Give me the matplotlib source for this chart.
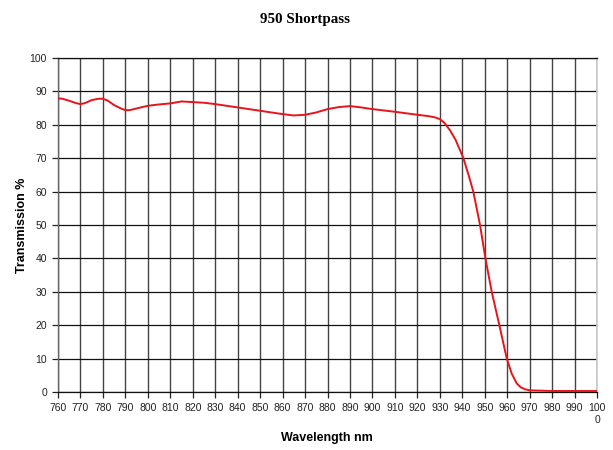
import matplotlib
matplotlib.use("Agg")
import matplotlib.pyplot as plt
import numpy as np

# transmission curve (nm, %)
wavelength = [760, 762, 765, 768, 770, 772, 775, 778, 780, 782, 785, 788,
              790, 792, 795, 800, 805, 810, 815, 820, 825, 830, 840, 850,
              860, 865, 870, 875, 880, 885, 890, 895, 900, 910, 920, 925,
              928, 930, 932, 934.5, 937, 940.5, 943, 944.9, 947.9, 950.3,
              953.1, 956.5, 959.8, 962, 964.2, 966, 968, 970, 975, 980,
              990, 1000]
transmission = [87.9, 87.8, 87.2, 86.5, 86.2, 86.5, 87.4, 87.8, 87.8, 87.3,
                85.9, 84.9, 84.4, 84.4, 84.9, 85.7, 86.1, 86.4, 87.0, 86.8,
                86.6, 86.2, 85.2, 84.2, 83.2, 82.8, 83.0, 83.7, 84.7, 85.3,
                85.6, 85.2, 84.7, 83.9, 83.0, 82.6, 82.2, 81.7, 80.6, 78.4,
                75.5, 70.0, 64.5, 60.0, 50.0, 40.0, 30.0, 20.0, 10.0, 5.5,
                2.6, 1.4, 0.8, 0.5, 0.4, 0.3, 0.3, 0.3]

x_ticks = list(range(760, 1001, 10))
x_tick_labels = [str(v) for v in x_ticks[:-1]] + ["100\n0"]
y_ticks = list(range(0, 101, 10))

fig = plt.figure(figsize=(6.13, 4.5), dpi=100)
ax = fig.add_axes([0.0946, 0.1289, 0.8794, 0.7422])

ax.plot(wavelength, transmission, color="#e8141b", linewidth=1.4, zorder=3)

ax.set_xlim(760, 1000)
ax.set_ylim(0, 100)
ax.set_xticks(x_ticks)
ax.set_xticklabels(x_tick_labels, fontsize=7.5, family="Liberation Sans",
                   color="#222222")
ax.set_yticks(y_ticks)
ax.set_yticklabels([str(v) for v in y_ticks], fontsize=7.5,
                   family="Liberation Sans", color="#222222")
ax.tick_params(length=4, width=0.9, color="#222222", pad=4)

ax.grid(axis="y", color="#111111", linewidth=0.9)
ax.grid(axis="x", color="#444444", linewidth=1.0)
ax.set_axisbelow(True)

for side in ("top", "bottom"):
    ax.spines[side].set_color("#111111")
    ax.spines[side].set_linewidth(0.9)
ax.spines["left"].set_color("#666666")
ax.spines["left"].set_linewidth(1.0)
ax.spines["right"].set_color("#c8c8c8")
ax.spines["right"].set_linewidth(1.2)

ax.set_xlabel("Wavelength nm", fontsize=9, fontweight="bold",
              family="Liberation Sans", va="center")
ax.xaxis.set_label_coords(0.499, -0.138)
ax.set_ylabel("Transmission %", fontsize=9, fontweight="bold",
              family="Liberation Sans", va="center")
ax.yaxis.set_label_coords(-0.067, 0.5)
fig.text(0.497, 0.957, "950 Shortpass", ha="center", va="center",
         fontsize=10.8, fontweight="bold", family="Liberation Serif")

fig.savefig("out.png", dpi=100)
plt.close(fig)
